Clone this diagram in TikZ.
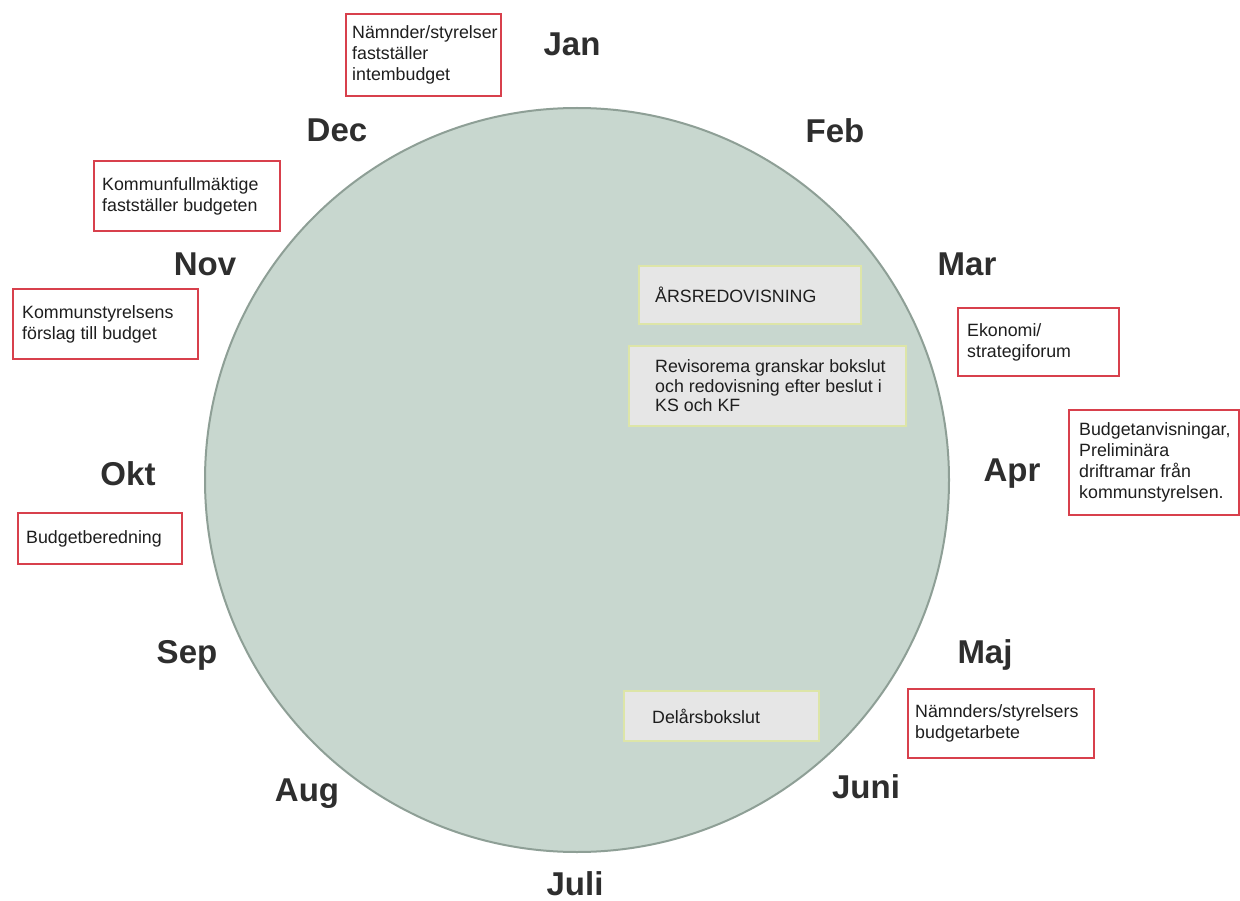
\documentclass[tikz,border=0pt]{standalone}
\usepackage{fontspec}
\setmainfont{Liberation Sans}
\definecolor{circfill}{HTML}{C8D7CF}
\definecolor{circline}{HTML}{8E9F96}
\definecolor{boxred}{HTML}{D8404C}
\definecolor{boxgrey}{HTML}{E6E6E6}
\definecolor{boxedge}{HTML}{DDE5A8}
\definecolor{monthtext}{HTML}{2E2E2E}
\definecolor{bodytext}{HTML}{1E1E1E}
\begin{document}
\begin{tikzpicture}[x=1pt,y=-1pt,
  month/.style={font=\fontsize{33}{38}\selectfont\bfseries, text=monthtext, inner sep=0pt, anchor=base},
  redbox/.style={draw=boxred, line width=2pt, fill=white, anchor=north west, inner sep=0pt},
  greybox/.style={draw=boxedge, line width=2pt, fill=boxgrey, anchor=north west, inner sep=0pt},
  redtext/.style={font=\fontsize{17.8}{21}\selectfont, text=bodytext, align=left, anchor=west, inner sep=0pt},
  greytext/.style={font=\fontsize{17.8}{19.5}\selectfont, text=bodytext, align=left, anchor=west, inner sep=0pt}]
\useasboundingbox (0,0) rectangle (1240,901);
\fill[white] (0,0) rectangle (1240,901);

% wheel
\node[circle, draw=circline, line width=2pt, fill=circfill, minimum size=744pt, inner sep=0pt] (wheel) at (577,480) {};

% months
\node[month] (jan) at (572,56) {Jan};
\node[month] (feb) at (835,143) {Feb};
\node[month] (mar) at (967,276) {Mar};
\node[month] (apr) at (1012,481) {Apr};
\node[month] (maj) at (985,663) {Maj};
\node[month] (jun) at (866,798) {Juni};
\node[month] (jul) at (575,895) {Juli};
\node[month] (aug) at (307,801) {Aug};
\node[month] (sep) at (187,663) {Sep};
\node[month] (okt) at (128,485) {Okt};
\node[month] (nov) at (205,276) {Nov};
\node[month] (dec) at (337,142) {Dec};

% red boxes
\node[redbox, minimum width=155pt, minimum height=82pt] (bjan) at (345,13) {};
\node[redtext] (tjan) at ([xshift=7pt]bjan.west) {Nämnder/styrelser\\fastställer\\intembudget};

\node[redbox, minimum width=186pt, minimum height=70pt] (bdec) at (93,160) {};
\node[redtext] (tdec) at ([xshift=9pt]bdec.west) {Kommunfullmäktige\\fastställer budgeten};

\node[redbox, minimum width=185pt, minimum height=70pt] (bnov) at (12,288) {};
\node[redtext] (tnov) at ([xshift=10pt]bnov.west) {Kommunstyrelsens\\förslag till budget};

\node[redbox, minimum width=164pt, minimum height=51pt] (bokt) at (17,512) {};
\node[redtext] (tokt) at ([xshift=9pt]bokt.west) {Budgetberedning};

\node[redbox, minimum width=161pt, minimum height=68pt] (bmar) at (957,307) {};
\node[redtext] (tmar) at ([xshift=10pt]bmar.west) {Ekonomi/\\strategiforum};

\node[redbox, minimum width=170pt, minimum height=105pt] (bapr) at (1068,409) {};
\node[redtext] (tapr) at ([xshift=11pt]bapr.west) {Budgetanvisningar,\\Preliminära\\driftramar från\\kommunstyrelsen.};

\node[redbox, minimum width=186pt, minimum height=69pt] (bmaj) at (907,688) {};
\node[redtext] (tmaj) at ([xshift=8pt]bmaj.west) {Nämnders/styrelsers\\budgetarbete};

% grey boxes inside the wheel
\node[greybox, minimum width=222pt, minimum height=58pt] (bars) at (638,265) {};
\node[greytext] (tars) at ([xshift=17pt]bars.west) {ÅRSREDOVISNING};

\node[greybox, minimum width=277pt, minimum height=80pt] (brev) at (628,345) {};
\node[greytext] (trev) at ([xshift=27pt]brev.west) {Revisorema granskar bokslut\\och redovisning efter beslut i\\KS och KF};

\node[greybox, minimum width=195pt, minimum height=50pt] (bdel) at (623,690) {};
\node[greytext] (tdel) at ([xshift=29pt]bdel.west) {Delårsbokslut};
\end{tikzpicture}
\end{document}
